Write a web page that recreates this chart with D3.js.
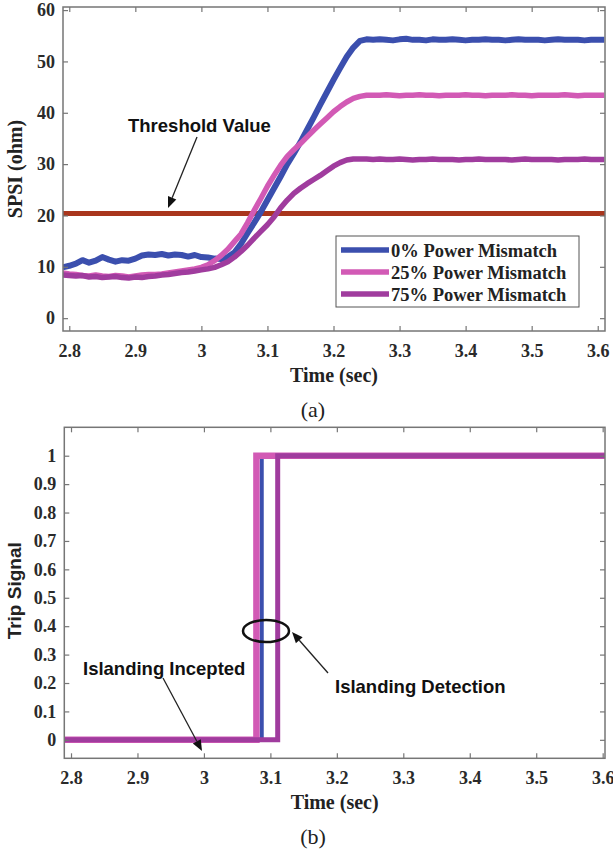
<!DOCTYPE html>
<html>
<head>
<meta charset="utf-8">
<script src="https://cdn.jsdelivr.net/npm/d3@7"></script>
<style>
  html, body { margin: 0; padding: 0; background: #fff; }
  svg { display: block; }
</style>
</head>
<body>
<svg id="fig" width="613" height="852"></svg>
<script>
// ---- data -------------------------------------------------------------
const time = [2.79,2.80,2.81,2.82,2.83,2.84,2.85,2.86,2.87,2.88,2.89,2.90,2.91,2.92,2.93,2.94,2.95,2.96,2.97,2.98,2.99,
  3.00,3.01,3.02,3.03,3.04,3.05,3.06,3.07,3.08,3.09,3.10,3.11,3.12,3.13,3.14,3.15,3.16,3.17,3.18,3.19,3.20,3.21,3.22,3.23,3.24,3.25,
  3.26,3.27,3.28,3.29,3.30,3.31,3.32,3.33,3.34,3.35,3.36,3.37,3.38,3.39,3.40,3.41,3.42,3.43,3.44,3.45,3.46,3.47,3.48,3.49,3.50,
  3.51,3.52,3.53,3.54,3.55,3.56,3.57,3.58,3.59,3.60,3.61];

// SPSI (ohm) for each power-mismatch case
const spsi0 = [9.9,10.2,10.6,11.3,10.8,11.2,11.9,11.4,11.0,11.3,11.2,11.6,12.2,12.4,12.3,12.5,12.2,12.4,12.3,12.0,12.3,
  11.9,11.8,11.6,11.5,11.9,12.8,14.5,16.6,18.6,20.7,23.0,25.3,27.6,30.0,32.1,34.3,36.7,39.1,41.6,44.0,46.4,48.7,50.9,52.7,54.0,54.3,
  54.2,54.3,54.2,54.1,54.3,54.4,54.2,54.2,54.1,54.3,54.2,54.2,54.3,54.2,54.1,54.2,54.2,54.3,54.2,54.2,54.1,54.2,54.3,54.2,
  54.2,54.2,54.1,54.2,54.3,54.2,54.2,54.2,54.1,54.2,54.2,54.2];
const spsi25 = [8.8,8.6,8.5,8.3,8.2,8.4,8.2,8.1,8.3,8.2,8.0,8.2,8.4,8.5,8.5,8.6,8.8,9.0,9.2,9.4,9.6,
  9.9,10.4,11.2,12.2,13.4,14.9,16.4,18.6,21.0,23.3,25.7,27.8,29.8,31.5,32.8,34.0,35.3,36.6,37.8,39.0,40.2,41.2,42.1,42.8,43.2,43.4,
  43.4,43.4,43.5,43.4,43.3,43.4,43.4,43.5,43.4,43.4,43.3,43.4,43.4,43.4,43.5,43.4,43.4,43.3,43.4,43.4,43.4,43.5,43.4,43.4,
  43.3,43.4,43.4,43.4,43.4,43.5,43.4,43.3,43.4,43.4,43.4,43.4];
const spsi75 = [8.4,8.3,8.2,8.3,8.0,8.1,7.9,8.0,8.1,7.9,7.8,8.0,7.9,8.1,8.2,8.4,8.5,8.7,8.9,9.0,9.2,
  9.4,9.6,9.9,10.4,11.0,11.9,13.0,14.2,15.6,16.9,18.2,19.7,21.5,23.0,24.3,25.3,26.2,27.0,27.8,28.7,29.6,30.3,30.8,31.0,31.0,31.0,
  30.9,31.0,30.9,30.9,31.0,30.9,30.8,30.9,30.9,31.0,30.9,30.9,30.9,30.8,30.9,30.9,31.0,30.9,30.9,30.9,30.9,30.8,30.9,31.0,
  30.9,30.9,30.9,30.9,30.8,30.9,30.9,30.9,31.0,30.9,30.9,30.9];
const thresholdValue = 20.4;

// Trip signal: time instants and levels of each step trace
const tripTime0  = [2.79, 3.087, 3.087, 3.61];
const tripTime25 = [2.79, 3.079, 3.079, 3.61];
const tripTime75 = [2.79, 3.111, 3.111, 3.61];
const tripLevel  = [0, 0, 1, 1];

const seriesNames = ["0% Power Mismatch", "25% Power Mismatch", "75% Power Mismatch"];

const xTicks = [2.8,2.9,3.0,3.1,3.2,3.3,3.4,3.5,3.6];
const xTickLabels = ["2.8","2.9","3","3.1","3.2","3.3","3.4","3.5","3.6"];
const yTicksA = [0,10,20,30,40,50,60];
const yTickLabelsA = ["0","10","20","30","40","50","60"];
const yTicksB = [0,0.1,0.2,0.3,0.4,0.5,0.6,0.7,0.8,0.9,1];
const yTickLabelsB = ["0","0.1","0.2","0.3","0.4","0.5","0.6","0.7","0.8","0.9","1"];

// ---- styling ----------------------------------------------------------
const colors = ["#3b4fae", "#d25ab5", "#a03c9e"];
const thresholdColor = "#a9361d";
const axisColor = "#767676";
const serif = "'Liberation Serif','Times New Roman',serif";
const sans = "'Liberation Sans',Arial,sans-serif";

const svg = d3.select("#fig");

function drawFrame(g, x, y, w, h, yTicks, yLabels, id) {
  g.append("clipPath").attr("id", id).append("rect")
    .attr("x", 0).attr("y", 0).attr("width", w).attr("height", h);

  const styleAxis = sel => {
    sel.select(".domain").remove();
    sel.selectAll(".tick line").attr("stroke", axisColor).attr("stroke-width", 1.2);
  };
  g.append("g").attr("transform", `translate(0,${h})`)
    .call(d3.axisBottom(x).tickValues(xTicks).tickFormat((d, i) => xTickLabels[i])
      .tickSize(-5).tickPadding(13))
    .call(styleAxis)
    .selectAll("text").attr("font-family", serif).attr("font-weight", "bold")
    .attr("font-size", 18).attr("fill", "#2a2a2a");
  g.append("g")
    .call(d3.axisTop(x).tickValues(xTicks).tickFormat("").tickSize(-5))
    .call(styleAxis);
  g.append("g")
    .call(d3.axisLeft(y).tickValues(yTicks).tickFormat((d, i) => yLabels[i])
      .tickSize(-5).tickPadding(8))
    .call(styleAxis)
    .selectAll("text").attr("font-family", serif).attr("font-weight", "bold")
    .attr("font-size", 18).attr("fill", "#2a2a2a");
  g.append("g").attr("transform", `translate(${w},0)`)
    .call(d3.axisRight(y).tickValues(yTicks).tickFormat("").tickSize(-5))
    .call(styleAxis);
  g.append("rect").attr("width", w).attr("height", h)
    .attr("fill", "none").attr("stroke", axisColor).attr("stroke-width", 1.5);
}

function arrow(g, x1, y1, x2, y2) {
  const ang = Math.atan2(y2 - y1, x2 - x1);
  const L = 11, W = 4.5;
  const bx = x2 - L * Math.cos(ang), by = y2 - L * Math.sin(ang);
  g.append("line").attr("x1", x1).attr("y1", y1).attr("x2", bx).attr("y2", by)
    .attr("stroke", "#222").attr("stroke-width", 1.3);
  g.append("path")
    .attr("d", `M${x2},${y2}L${bx - W * Math.sin(ang)},${by + W * Math.cos(ang)}L${bx + W * Math.sin(ang)},${by - W * Math.cos(ang)}Z`)
    .attr("fill", "#111");
}

// ---- panel (a): SPSI --------------------------------------------------
{
  const left = 63, top = 7, w = 542, h = 324;
  const g = svg.append("g").attr("transform", `translate(${left},${top})`);
  const x = d3.scaleLinear().domain([2.7905, 3.611]).range([0, w]);
  const y = d3.scaleLinear().domain([-2.5, 60.6]).range([h, 0]);

  const plot = g.append("g").attr("clip-path", "url(#clipA)");
  plot.append("line").attr("x1", 0).attr("x2", w)
    .attr("y1", y(thresholdValue)).attr("y2", y(thresholdValue))
    .attr("stroke", thresholdColor).attr("stroke-width", 5);

  const line = d3.line().x((d, i) => x(time[i])).y(d => y(d));
  [spsi0, spsi25, spsi75].forEach((s, k) => {
    plot.append("path").datum(s).attr("d", line)
      .attr("fill", "none").attr("stroke", colors[k])
      .attr("stroke-width", k === 0 ? 6 : 5.5)
      .attr("stroke-linejoin", "round");
  });

  drawFrame(g, x, y, w, h, yTicksA, yTickLabelsA, "clipA");

  // legend
  const lg = g.append("g").attr("transform", `translate(${336 - left},${236 - top})`);
  lg.append("rect").attr("width", 243).attr("height", 71)
    .attr("fill", "#fff").attr("stroke", "#555").attr("stroke-width", 1);
  seriesNames.forEach((name, k) => {
    const cy = 14 + k * 22;
    lg.append("line").attr("x1", 5).attr("x2", 53).attr("y1", cy).attr("y2", cy)
      .attr("stroke", colors[k]).attr("stroke-width", 5.5);
    lg.append("text").attr("x", 55).attr("y", cy + 6.5).text(name)
      .attr("font-family", serif).attr("font-weight", "bold").attr("font-size", 18.5)
      .attr("fill", "#222");
  });

  // annotation
  g.append("text").attr("x", 128 - left).attr("y", 132 - top).text("Threshold Value")
    .attr("font-family", sans).attr("font-weight", "bold").attr("font-size", 18.5).attr("fill", "#111");
  arrow(g, 197 - left, 137 - top, 168 - left, 208 - top);

  // axis titles
  g.append("text").attr("x", w / 2).attr("y", h + 51).attr("text-anchor", "middle")
    .text("Time (sec)").attr("font-family", serif).attr("font-weight", "bold")
    .attr("font-size", 20).attr("fill", "#222");
  g.append("text").attr("transform", `translate(${22 - left},${h / 2}) rotate(-90)`)
    .attr("text-anchor", "middle").text("SPSI (ohm)")
    .attr("font-family", serif).attr("font-weight", "bold").attr("font-size", 20).attr("fill", "#222");
}

svg.append("text").attr("x", 313).attr("y", 417).attr("text-anchor", "middle").text("(a)")
  .attr("font-family", serif).attr("font-size", 22).attr("fill", "#222");

// ---- panel (b): trip signal -------------------------------------------
{
  const left = 64.3, top = 427.3, w = 540.7, h = 331;
  const g = svg.append("g").attr("transform", `translate(${left},${top})`);
  const x = d3.scaleLinear().domain([2.7899, 3.6035]).range([0, w]);
  const y = d3.scaleLinear().domain([-0.065, 1.1]).range([h, 0]);

  const plot = g.append("g").attr("clip-path", "url(#clipB)");
  const tripSets = [tripTime0, tripTime25, tripTime75];
  const widths = [4, 6.5, 5];
  // draw order: 0%, 25%, 75%
  tripSets.forEach((tt, k) => {
    const ln = d3.line().x((d, i) => x(tt[i])).y(d => y(d));
    plot.append("path").datum(tripLevel).attr("d", ln)
      .attr("fill", "none").attr("stroke", colors[k]).attr("stroke-width", widths[k])
      .attr("stroke-linejoin", "miter");
  });

  drawFrame(g, x, y, w, h, yTicksB, yTickLabelsB, "clipB");

  // annotations
  g.append("ellipse").attr("cx", 266 - left).attr("cy", 631 - top).attr("rx", 23).attr("ry", 11)
    .attr("fill", "none").attr("stroke", "#111").attr("stroke-width", 2.5);
  g.append("text").attr("x", 83 - left).attr("y", 675 - top).text("Islanding Incepted")
    .attr("font-family", sans).attr("font-weight", "bold").attr("font-size", 18.5).attr("fill", "#111");
  arrow(g, 163 - left, 678 - top, 202 - left, 751 - top);
  g.append("text").attr("x", 335 - left).attr("y", 693 - top).text("Islanding Detection")
    .attr("font-family", sans).attr("font-weight", "bold").attr("font-size", 18.5).attr("fill", "#111");
  arrow(g, 328 - left, 673 - top, 292 - left, 632 - top);

  // axis titles
  g.append("text").attr("x", w / 2).attr("y", h + 51).attr("text-anchor", "middle")
    .text("Time (sec)").attr("font-family", serif).attr("font-weight", "bold")
    .attr("font-size", 20).attr("fill", "#222");
  g.append("text").attr("transform", `translate(${21 - left},${h / 2 - 2}) rotate(-90)`)
    .attr("text-anchor", "middle").text("Trip Signal")
    .attr("font-family", sans).attr("font-weight", "bold").attr("font-size", 19).attr("fill", "#222");
}

svg.append("text").attr("x", 313).attr("y", 844).attr("text-anchor", "middle").text("(b)")
  .attr("font-family", serif).attr("font-size", 22).attr("fill", "#222");
</script>
</body>
</html>
